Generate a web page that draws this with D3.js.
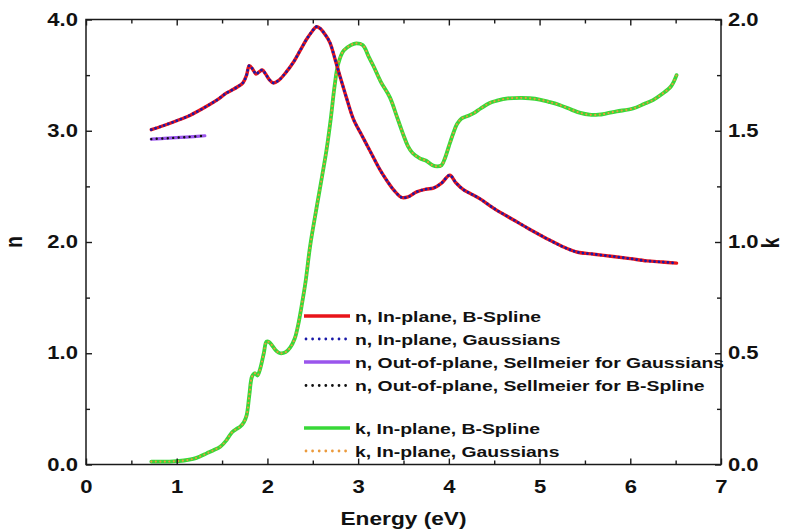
<!DOCTYPE html>
<html>
<head>
<meta charset="utf-8">
<script src="https://cdn.jsdelivr.net/npm/d3@7"></script>
<style>
  html, body { margin: 0; padding: 0; background: #fff; }
  svg { display: block; }
  text { font-family: "Liberation Sans", Arial, sans-serif; font-weight: bold; fill: #111; }
</style>
</head>
<body>
<svg id="chart" width="793" height="529"></svg>
<script>
// Photon energy (eV) and refractive index n, in-plane
const nEnergy = [0.72,0.85,1.0,1.15,1.33,1.45,1.55,1.62,1.68,1.73,1.77,1.80,1.84,1.874,1.91,1.944,1.98,2.02,2.065,2.12,2.2,2.29,2.36,2.43,2.49,2.54,2.58,2.64,2.69,2.75,2.80,2.87,2.95,3.04,3.13,3.24,3.31,3.40,3.48,3.55,3.645,3.75,3.83,3.92,4.01,4.08,4.16,4.25,4.34,4.5,4.71,4.9,5.08,5.25,5.41,5.6,5.81,6.0,6.18,6.35,6.51];
const nInPlane = [3.01,3.045,3.09,3.14,3.22,3.28,3.34,3.37,3.40,3.43,3.50,3.585,3.55,3.51,3.53,3.546,3.51,3.46,3.43,3.45,3.52,3.62,3.72,3.82,3.89,3.935,3.92,3.86,3.79,3.63,3.49,3.30,3.10,2.96,2.82,2.65,2.56,2.46,2.40,2.405,2.45,2.475,2.485,2.53,2.60,2.53,2.47,2.43,2.39,2.30,2.20,2.11,2.03,1.96,1.91,1.89,1.87,1.85,1.83,1.82,1.81];

// Out-of-plane n from the Sellmeier fits (transparent range only)
const oopEnergy = [0.72,0.9,1.1,1.31];
const nOutOfPlane = [2.925,2.933,2.943,2.955];

// Extinction coefficient k, in-plane
const kEnergy = [0.72,0.85,0.96,1.08,1.18,1.25,1.33,1.40,1.48,1.55,1.61,1.66,1.70,1.74,1.77,1.80,1.83,1.86,1.89,1.92,1.96,1.99,2.02,2.06,2.10,2.14,2.20,2.25,2.30,2.34,2.38,2.42,2.47,2.54,2.60,2.65,2.70,2.74,2.78,2.84,2.92,2.98,3.05,3.12,3.17,3.25,3.35,3.43,3.50,3.55,3.60,3.68,3.75,3.82,3.87,3.92,3.96,4.0,4.05,4.09,4.14,4.2,4.27,4.35,4.45,4.53,4.65,4.8,4.89,5.0,5.1,5.22,5.35,5.45,5.55,5.65,5.74,5.85,6.03,6.15,6.25,6.35,6.45,6.51];
const kInPlane = [0.013,0.013,0.014,0.018,0.025,0.035,0.05,0.063,0.08,0.11,0.145,0.16,0.17,0.19,0.22,0.31,0.395,0.41,0.40,0.43,0.50,0.552,0.55,0.53,0.51,0.50,0.505,0.525,0.565,0.63,0.72,0.82,0.98,1.15,1.29,1.41,1.56,1.70,1.80,1.86,1.885,1.893,1.885,1.83,1.79,1.72,1.65,1.56,1.48,1.43,1.40,1.376,1.365,1.345,1.34,1.345,1.38,1.43,1.49,1.53,1.555,1.565,1.578,1.60,1.625,1.635,1.645,1.648,1.646,1.64,1.63,1.616,1.595,1.58,1.572,1.572,1.578,1.587,1.60,1.62,1.638,1.665,1.70,1.75];

// Axis ticks
const xTicks = [0,1,2,3,4,5,6,7];
const nTicks = [0,1,2,3,4];
const kTicks = [0,0.5,1.0,1.5,2.0];

const legendItems = [
  {label: "n, In-plane, B-Spline", color: "#e8141a", dotted: false},
  {label: "n, In-plane, Gaussians", color: "#1a1aa8", dotted: true},
  {label: "n, Out-of-plane, Sellmeier for Gaussians", color: "#9a55ec", dotted: false},
  {label: "n, Out-of-plane, Sellmeier for B-Spline", color: "#111111", dotted: true},
  null,
  {label: "k, In-plane, B-Spline", color: "#38d838", dotted: false},
  {label: "k, In-plane, Gaussians", color: "#eb9a3c", dotted: true}
];

const plotLeft = 86, plotRight = 721, plotTop = 19.5, plotBottom = 464.5;
const SX = 1.26; // horizontal widening of the lettering

const svg = d3.select("#chart");
const x = d3.scaleLinear().domain([0, 7]).range([plotLeft, plotRight]);
const yN = d3.scaleLinear().domain([0, 4]).range([plotBottom, plotTop]);
const yK = d3.scaleLinear().domain([0, 2]).range([plotBottom, plotTop]);

const zip = (xs, ys) => xs.map((v, i) => [v, ys[i]]);
const lineN = d3.line().x(d => x(d[0])).y(d => yN(d[1])).curve(d3.curveCatmullRom.alpha(0.5));
const lineK = d3.line().x(d => x(d[0])).y(d => yK(d[1])).curve(d3.curveCatmullRom.alpha(0.5));

const plot = svg.append("g");

// k: solid B-spline under the dotted Gaussian fit
plot.append("path").datum(zip(kEnergy, kInPlane)).attr("d", lineK)
  .attr("fill", "none").attr("stroke", legendItems[5].color).attr("stroke-width", 3.8)
  .attr("stroke-linejoin", "round").attr("stroke-linecap", "round");
plot.append("path").datum(zip(kEnergy, kInPlane)).attr("d", lineK)
  .attr("fill", "none").attr("stroke", legendItems[6].color).attr("stroke-width", 2.2)
  .attr("stroke-dasharray", "0,4.5").attr("stroke-linecap", "round");

// n in-plane
plot.append("path").datum(zip(nEnergy, nInPlane)).attr("d", lineN)
  .attr("fill", "none").attr("stroke", legendItems[0].color).attr("stroke-width", 3.4)
  .attr("stroke-linejoin", "round").attr("stroke-linecap", "round");
plot.append("path").datum(zip(nEnergy, nInPlane)).attr("d", lineN)
  .attr("fill", "none").attr("stroke", legendItems[1].color).attr("stroke-width", 2.8)
  .attr("stroke-dasharray", "0,4.5").attr("stroke-linecap", "round");

// n out-of-plane
plot.append("path").datum(zip(oopEnergy, nOutOfPlane)).attr("d", lineN)
  .attr("fill", "none").attr("stroke", legendItems[2].color).attr("stroke-width", 3.2)
  .attr("stroke-linecap", "round");
plot.append("path").datum(zip(oopEnergy, nOutOfPlane)).attr("d", lineN)
  .attr("fill", "none").attr("stroke", legendItems[3].color).attr("stroke-width", 2.4)
  .attr("stroke-dasharray", "0,5.5").attr("stroke-linecap", "round");

// Frame
svg.append("rect").attr("x", plotLeft).attr("y", plotTop)
  .attr("width", plotRight - plotLeft).attr("height", plotBottom - plotTop)
  .attr("fill", "none").attr("stroke", "#1a1a1a").attr("stroke-width", 1.5);

const minorX = d3.range(0.5, 7, 1);
const minorN = d3.range(0.5, 4, 1);

function styleAxis(g) {
  g.select(".domain").remove();
  g.selectAll(".tick line").attr("stroke", "#1a1a1a").attr("stroke-width", 1.4);
}
function stretchLabels(g, offsetX) {
  g.selectAll(".tick text")
    .style("font-size", "17.5px")
    .attr("fill", "#111")
    .attr("x", offsetX / SX)
    .attr("transform", `scale(${SX},1)`);
}

// Bottom axis
const gB = svg.append("g").attr("transform", `translate(0,${plotBottom})`)
  .call(d3.axisBottom(x).tickValues(xTicks).tickFormat(d3.format("d")).tickSize(-6).tickPadding(16));
styleAxis(gB); stretchLabels(gB, 0);
const gBm = svg.append("g").attr("transform", `translate(0,${plotBottom})`)
  .call(d3.axisBottom(x).tickValues(minorX).tickFormat("").tickSize(-4));
styleAxis(gBm);

// Top axis (ticks only)
const gT = svg.append("g").attr("transform", `translate(0,${plotTop})`)
  .call(d3.axisTop(x).tickValues(xTicks).tickFormat("").tickSize(-6));
styleAxis(gT);
const gTm = svg.append("g").attr("transform", `translate(0,${plotTop})`)
  .call(d3.axisTop(x).tickValues(minorX).tickFormat("").tickSize(-4));
styleAxis(gTm);

// Left axis: n
const gL = svg.append("g").attr("transform", `translate(${plotLeft},0)`)
  .call(d3.axisLeft(yN).tickValues(nTicks).tickFormat(d3.format(".1f")).tickSize(-6));
styleAxis(gL); stretchLabels(gL, -8);
const gLm = svg.append("g").attr("transform", `translate(${plotLeft},0)`)
  .call(d3.axisLeft(yN).tickValues(minorN).tickFormat("").tickSize(-4));
styleAxis(gLm);

// Right axis: k
const gR = svg.append("g").attr("transform", `translate(${plotRight},0)`)
  .call(d3.axisRight(yK).tickValues(kTicks).tickFormat(d3.format(".1f")).tickSize(-6));
styleAxis(gR); stretchLabels(gR, 7);
const gRm = svg.append("g").attr("transform", `translate(${plotRight},0)`)
  .call(d3.axisRight(yK).tickValues(d3.range(0.25, 2, 0.5)).tickFormat("").tickSize(-4));
styleAxis(gRm);

// Axis titles
function stretchedText(px, py, str, size, rotate) {
  const g = svg.append("g").attr("transform", `translate(${px},${py})` + (rotate ? ` rotate(${rotate})` : ""));
  return g.append("text").attr("transform", rotate ? `scale(1,${SX})` : `scale(${SX},1)`)
    .attr("text-anchor", "middle").style("font-size", size + "px").text(str);
}
stretchedText((plotLeft + plotRight) / 2, 524.5, "Energy (eV)", 18);
stretchedText(22, 242, "n", 19, -90);
stretchedText(779, 243, "k", 19, -90);

// Legend
const legend = svg.append("g");
const rowY = [316, 339, 362, 385.5, null, 428, 451];
legendItems.forEach((item, i) => {
  if (!item) return;
  const yy = rowY[i];
  const seg = legend.append("line").attr("x1", 304).attr("x2", 350).attr("y1", yy).attr("y2", yy)
    .attr("stroke", item.color);
  if (item.dotted) {
    seg.attr("stroke-width", 2.8).attr("stroke-dasharray", "0,6.6").attr("stroke-linecap", "round")
      .attr("x1", 306).attr("x2", 349);
  } else {
    seg.attr("stroke-width", 3.4);
  }
  legend.append("g").attr("transform", `translate(355,${yy + 5.5})`)
    .append("text").attr("transform", `scale(1.25,1)`).style("font-size", "15.5px").text(item.label);
});
</script>
</body>
</html>
